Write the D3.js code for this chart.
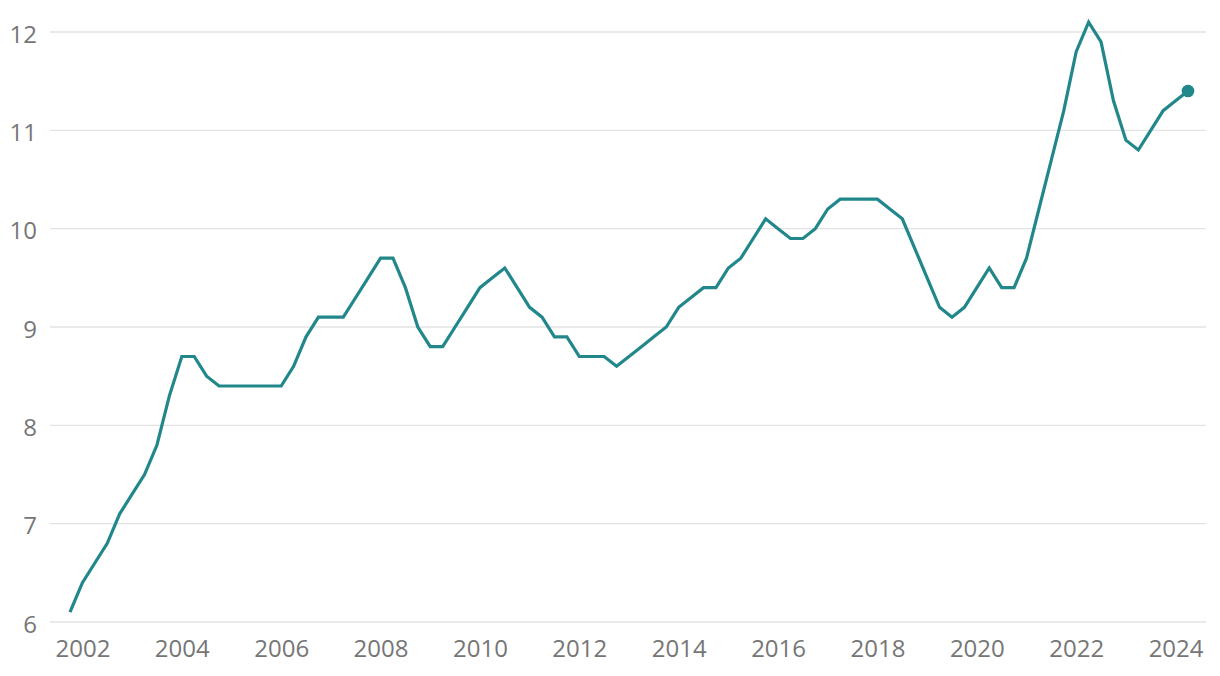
<!DOCTYPE html>
<html>
<head>
<meta charset="utf-8">
<script src="https://cdn.jsdelivr.net/npm/d3@7"></script>
<style>
  html, body { margin: 0; padding: 0; background: #ffffff; }
  svg { display: block; }
  .tick text { font-family: "Open Sans", sans-serif; }
</style>
</head>
<body>
<svg id="chart" width="1220" height="676"></svg>
<script>
// Quarterly periods, 2001 Q4 .. 2024 Q2
const startYear = 2001, startQuarter = 4;
const values = [
  6.1, 6.4, 6.6, 6.8, 7.1, 7.3, 7.5, 7.8, 8.3, 8.7,
  8.7, 8.5, 8.4, 8.4, 8.4, 8.4, 8.4, 8.4, 8.6, 8.9,
  9.1, 9.1, 9.1, 9.3, 9.5, 9.7, 9.7, 9.4, 9.0, 8.8,
  8.8, 9.0, 9.2, 9.4, 9.5, 9.6, 9.4, 9.2, 9.1, 8.9,
  8.9, 8.7, 8.7, 8.7, 8.6, 8.7, 8.8, 8.9, 9.0, 9.2,
  9.3, 9.4, 9.4, 9.6, 9.7, 9.9, 10.1, 10.0, 9.9, 9.9,
  10.0, 10.2, 10.3, 10.3, 10.3, 10.3, 10.2, 10.1, 9.8, 9.5,
  9.2, 9.1, 9.2, 9.4, 9.6, 9.4, 9.4, 9.7, 10.2, 10.7,
  11.2, 11.8, 12.1, 11.9, 11.3, 10.9, 10.8, 11.0, 11.2, 11.3,
  11.4
];
const periods = values.map((v, i) => {
  const q = startQuarter - 1 + i;
  return { year: startYear + Math.floor(q / 4), quarter: (q % 4) + 1 };
});
const xTickYears = [2002, 2004, 2006, 2008, 2010, 2012, 2014, 2016, 2018, 2020, 2022, 2024];
const yTickValues = [6, 7, 8, 9, 10, 11, 12];

const data = periods.map((p, i) => ({ t: p.year + (p.quarter - 1) / 4, v: values[i] }));

const svg = d3.select("#chart");
const gridLeft = 50, gridRight = 1206;

const x = d3.scaleLinear()
  .domain([2001.75, 2024.25])
  .range([70, 1188]);
const y = d3.scaleLinear()
  .domain([6, 12])
  .range([622, 32]);

// gridlines
svg.append("g")
  .selectAll("line")
  .data(yTickValues)
  .join("line")
  .attr("x1", gridLeft).attr("x2", gridRight)
  .attr("y1", d => y(d)).attr("y2", d => y(d))
  .attr("stroke", "#e3e3e3")
  .attr("stroke-width", 1.4);

// y axis labels
const yAxis = svg.append("g")
  .attr("transform", `translate(${gridLeft},0)`)
  .call(d3.axisLeft(y).tickValues(yTickValues).tickSize(0).tickPadding(13).tickFormat(d3.format("d")));
yAxis.select(".domain").remove();
yAxis.selectAll("text")
  .attr("fill", "#767676")
  .attr("font-size", 24)
  .attr("dy", "0.42em");

// x axis labels
const xAxis = svg.append("g")
  .attr("transform", `translate(0,${y(6)})`)
  .call(d3.axisBottom(x).tickValues(xTickYears).tickSize(0).tickPadding(18).tickFormat(d3.format("d")));
xAxis.select(".domain").remove();
xAxis.selectAll("text")
  .attr("fill", "#767676")
  .attr("font-size", 24);

// line
const line = d3.line()
  .x(d => x(d.t))
  .y(d => y(d.v));

svg.append("path")
  .datum(data)
  .attr("fill", "none")
  .attr("stroke", "#21878a")
  .attr("stroke-width", 3.2)
  .attr("stroke-linejoin", "miter")
  .attr("d", line);

const last = data[data.length - 1];
svg.append("circle")
  .attr("cx", x(last.t))
  .attr("cy", y(last.v))
  .attr("r", 6.3)
  .attr("fill", "#21878a");
</script>
</body>
</html>
